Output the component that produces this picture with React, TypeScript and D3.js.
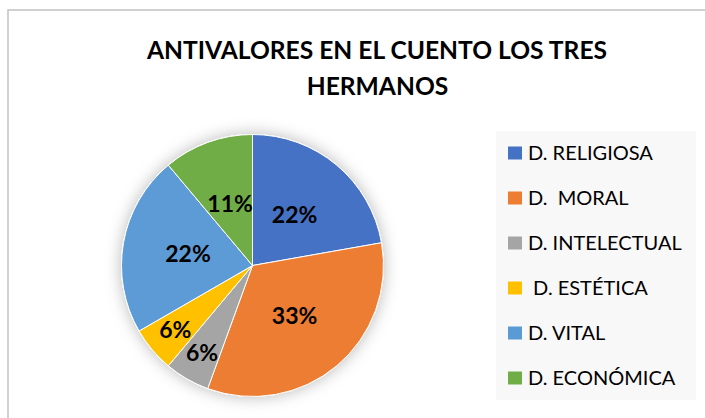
import React from "react";
import * as d3 from "d3";

const categories = ["D. RELIGIOSA", "D.  MORAL", "D. INTELECTUAL", " D. ESTÉTICA", "D. VITAL", "D. ECONÓMICA"];
const values = [4, 6, 1, 1, 4, 2];
const colors = ["#4472C4", "#ED7D31", "#A5A5A5", "#FFC000", "#5B9BD5", "#70AD47"];
const titleLines = ["ANTIVALORES EN EL CUENTO LOS TRES", "HERMANOS"];

const W = 705;
const H = 418;
const cx = 252.5;
const cy = 265.5;
const R = 131;
const FONT = "Lato, 'Open Sans', sans-serif";

export default function App() {
  const total = d3.sum(values);
  const pie = d3.pie<number>().sort(null).value((d) => d);
  const arcs = pie(values);
  const arcGen = d3.arc<d3.PieArcDatum<number>>().innerRadius(0).outerRadius(R);
  const fmt = (v: number) => `${Math.round((v / total) * 100)}%`;

  const labelPos = (a: d3.PieArcDatum<number>) => {
    const span = a.endAngle - a.startAngle;
    const r = span < 0.5 ? R * 0.77 : R * 0.5;
    const m = (a.startAngle + a.endAngle) / 2;
    return [Math.sin(m) * r, -Math.cos(m) * r];
  };

  const legendY = d3.scalePoint<number>().domain(d3.range(categories.length)).range([153, 378]);

  return (
    <svg
      width={W}
      height={H}
      style={{ position: "absolute", left: 0, top: 0, display: "block", background: "#fff" }}
    >
      <defs>
        <filter id="glow" x="-30%" y="-30%" width="160%" height="160%">
          <feDropShadow dx="0" dy="0" stdDeviation="8" floodColor="#000" floodOpacity="0.28" />
        </filter>
      </defs>
      <rect x={0} y={0} width={W} height={H} fill="#fff" />
      <rect x={8} y={10} width={W + 20} height={H + 20} fill="#fff" stroke="#c8c8c8" strokeWidth={1.7} />

      <g fontFamily={FONT} fontWeight="bold" fontSize={24.6} fill="#000" textAnchor="middle">
        <text x={377} y={58.5}>{titleLines[0]}</text>
        <text x={377.5} y={95}>{titleLines[1]}</text>
      </g>

      <g transform={`translate(${cx},${cy})`}>
        <g filter="url(#glow)">
          {arcs.map((a, i) => (
            <path key={i} d={arcGen(a) || ""} fill={colors[i]} stroke="#fff" strokeWidth={1} />
          ))}
        </g>
        {arcs.map((a, i) => {
          const [x, y] = labelPos(a);
          return (
            <text
              key={i}
              x={x}
              y={y}
              dy="0.35em"
              textAnchor="middle"
              fontFamily={FONT}
              fontWeight="bold"
              fontSize={23}
              fill="#000"
            >
              {fmt(values[i])}
            </text>
          );
        })}
      </g>

      <rect x={496} y={131} width={200} height={269} fill="#f8f8f8" />
      {categories.map((c, i) => {
        const y = legendY(i) as number;
        return (
          <g key={i}>
            <rect x={508} y={y - 6.5} width={14} height={13} fill={colors[i]} />
            <text
              x={528}
              y={y}
              dy="0.36em"
              fontFamily={FONT}
              fontSize={20}
              fill="#000"
              style={{ whiteSpace: "pre" }}
            >
              {c}
            </text>
          </g>
        );
      })}
    </svg>
  );
}
